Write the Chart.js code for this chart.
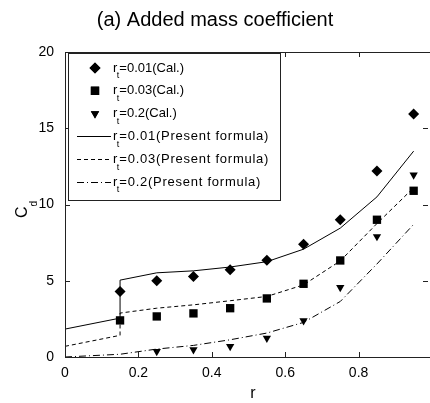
<!DOCTYPE html>
<html>
<head>
<meta charset="utf-8">
<script src="https://cdn.jsdelivr.net/npm/chart.js@4.4.0/dist/chart.umd.min.js"></script>
<style>
  html, body { margin: 0; padding: 0; background: #fff; }
  #wrap { position: relative; width: 430px; height: 403px; overflow: hidden; }
  #wrap canvas { position: absolute; left: 0; top: 0; }
</style>
</head>
<body>
<div id="wrap"><canvas id="cd" width="440" height="403"></canvas></div>
<script>
// radius ratios where the cal. points are
const rCal = [0.15, 0.25, 0.35, 0.45, 0.55, 0.65, 0.75, 0.85, 0.95];
const cal001 = [4.3, 5.0, 5.28, 5.72, 6.35, 7.4, 9.0, 12.2, 15.93];
const cal003 = [2.4, 2.66, 2.86, 3.2, 3.84, 4.8, 6.33, 9.0, 10.9];
const rCal02 = [0.25, 0.35, 0.45, 0.55, 0.65, 0.75, 0.85, 0.95];
const cal02 = [0.37, 0.48, 0.7, 1.24, 2.38, 4.56, 7.9, 11.94];

// present formula curves (jump at r = 0.15)
const rFormula = [0, 0.15, 0.15, 0.25, 0.35, 0.45, 0.55, 0.65, 0.75, 0.85, 0.95];
const form001 = [1.83, 2.55, 5.04, 5.52, 5.65, 5.9, 6.25, 7.07, 8.45, 10.5, 13.5];
const form003 = [0.7, 1.42, 2.88, 3.2, 3.42, 3.69, 3.97, 4.73, 6.3, 8.75, 11.1];
const rForm02 = [0, 0.15, 0.25, 0.35, 0.45, 0.55, 0.65, 0.75, 0.85, 0.95];
const form02 = [0, 0.18, 0.52, 0.76, 1.13, 1.57, 2.27, 3.64, 6.1, 8.7];

const xTicks = [0, 0.2, 0.4, 0.6, 0.8, 1.0];
const yTicks = [0, 5, 10, 15, 20];

const FONT = '"Liberation Sans", Arial, sans-serif';
const INK = "#000";

const pts = (xs, ys) => xs.map((x, i) => ({ x: x, y: ys[i] }));

// legend rows: text after "r_t" + which dataset it stands for
const legendRows = [
  { val: "=0.01(Cal.)", ds: 3 },
  { val: "=0.03(Cal.)", ds: 4 },
  { val: "=0.2(Cal.)", ds: 5 },
  { val: "=0.01(Present formula)", ds: 0 },
  { val: "=0.03(Present formula)", ds: 1 },
  { val: "=0.2(Present formula)", ds: 2 },
];

const lineDs = (data, dash) => ({
  data,
  showLine: true,
  borderColor: INK,
  borderWidth: 1,
  borderDash: dash,
  pointRadius: 0,
  fill: false,
  tension: 0,
});
const markDs = (data, style, radius, rot) => ({
  data,
  showLine: false,
  pointStyle: style,
  pointRadius: radius,
  pointRotation: rot || 0,
  pointBackgroundColor: INK,
  pointBorderWidth: 0,
  borderColor: INK,
});

// frame, inward ticks, axis titles, title and legend
const decor = {
  id: "decor",
  afterDatasetsDraw(chart) {
    const { ctx, chartArea: a, scales } = chart;
    const xs = scales.x, ys = scales.y;
    ctx.save();
    ctx.strokeStyle = "#222";
    ctx.lineWidth = 1;
    ctx.setLineDash([]);
    ctx.strokeRect(a.left + 0.5, a.top + 0.5, a.right - a.left, a.bottom - a.top);
    const tl = 5;
    ctx.beginPath();
    xTicks.slice(1, -1).forEach((v) => {
      const px = Math.round(xs.getPixelForValue(v)) + 0.5;
      ctx.moveTo(px, a.bottom); ctx.lineTo(px, a.bottom - tl);
      ctx.moveTo(px, a.top); ctx.lineTo(px, a.top + tl);
    });
    yTicks.slice(1, -1).forEach((v) => {
      const py = Math.round(ys.getPixelForValue(v)) + 0.5;
      ctx.moveTo(a.left, py); ctx.lineTo(a.left + tl, py);
      // right frame sits just outside the window, only its ticks show
      ctx.moveTo(a.right - 4, py); ctx.lineTo(a.right - 4 - tl, py);
    });
    ctx.stroke();

    // title
    ctx.fillStyle = INK;
    ctx.font = "20px " + FONT;
    ctx.textAlign = "center";
    ctx.textBaseline = "alphabetic";
    ctx.fillText("(a) Added mass coefficient", 215, 26);

    // x title
    ctx.font = "16px " + FONT;
    ctx.fillText("r", 253, 398);

    // y title C_d
    ctx.save();
    ctx.translate(27, 218);
    ctx.rotate(-Math.PI / 2);
    ctx.textAlign = "left";
    ctx.font = "16px " + FONT;
    ctx.fillText("C", 0, 0);
    const cw = ctx.measureText("C").width;
    ctx.font = "10px " + FONT;
    ctx.fillText("d", cw, 10);
    ctx.restore();

    // legend box
    ctx.fillStyle = "#fff";
    ctx.fillRect(68, 53, 212, 147);
    ctx.strokeStyle = "#222";
    ctx.strokeRect(68.5, 53.5, 212, 147);
    const rowY0 = 68, rowGap = 22.8;
    legendRows.forEach((row, i) => {
      const y = rowY0 + i * rowGap;
      const ds = chart.data.datasets[row.ds];
      ctx.fillStyle = INK;
      if (ds.showLine) {
        ctx.strokeStyle = INK;
        ctx.setLineDash(ds.borderDash || []);
        ctx.beginPath();
        ctx.moveTo(77, Math.round(y) + 0.5);
        ctx.lineTo(111, Math.round(y) + 0.5);
        ctx.stroke();
        ctx.setLineDash([]);
      } else {
        Chart.helpers.drawPoint(ctx, {
          pointStyle: ds.pointStyle,
          rotation: ds.pointRotation,
          radius: ds.pointRadius,
          borderWidth: 0,
        }, 95, y);
        ctx.fill();
      }
      ctx.textAlign = "left";
      ctx.textBaseline = "middle";
      ctx.font = "13px " + FONT;
      let tx = 113;
      ctx.fillText("r", tx, y);
      tx += ctx.measureText("r").width - 0.5;
      ctx.font = "9px " + FONT;
      ctx.fillText("t", tx, y + 8);
      tx += ctx.measureText("t").width;
      ctx.font = "13px " + FONT;
      // the formula rows are set a little wider in the original
      ctx.letterSpacing = ds.showLine ? "0.75px" : "0px";
      ctx.fillText(row.val, tx, y);
      ctx.letterSpacing = "0px";
    });
    ctx.restore();
  },
};

new Chart(document.getElementById("cd"), {
  type: "scatter",
  data: {
    datasets: [
      lineDs(pts(rFormula, form001), []),
      lineDs(pts(rFormula, form003), [4, 3]),
      lineDs(pts(rForm02, form02), [7, 3, 1, 3]),
      markDs(pts(rCal, cal001), "rectRot", 5.5),
      markDs(pts(rCal, cal003), "rect", 5.9),
      markDs(pts(rCal02, cal02), "triangle", 4.8, 180),
    ],
  },
  options: {
    responsive: false,
    animation: false,
    events: [],
    layout: { padding: { top: 52, right: 5, left: 0, bottom: 0 } },
    plugins: { legend: { display: false }, tooltip: { enabled: false } },
    scales: {
      x: {
        type: "linear",
        min: 0,
        max: 1,
        afterBuildTicks: (s) => { s.ticks = xTicks.map((v) => ({ value: v })); },
        afterFit: (s) => { s.height = 46; },
        grid: { display: false, drawTicks: false },
        border: { display: false },
        ticks: {
          color: INK,
          padding: 8,
          maxRotation: 0,
          font: { family: FONT, size: 14 },
          callback: (v) => (v >= 1 ? "" : String(Math.round(v * 10) / 10)),
        },
      },
      y: {
        type: "linear",
        min: 0,
        max: 20,
        afterBuildTicks: (s) => { s.ticks = yTicks.map((v) => ({ value: v })); },
        afterFit: (s) => { s.width = 65; },
        grid: { display: false, drawTicks: false },
        border: { display: false },
        ticks: {
          color: INK,
          padding: 11,
          font: { family: FONT, size: 14 },
        },
      },
    },
  },
  plugins: [decor],
});
</script>
</body>
</html>
